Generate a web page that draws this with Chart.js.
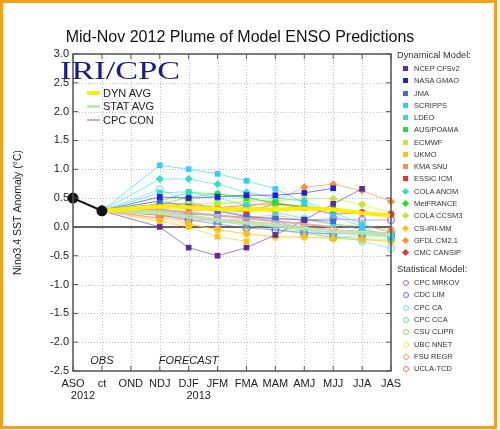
<!DOCTYPE html>
<html>
<head>
<meta charset="utf-8">
<script src="https://cdn.jsdelivr.net/npm/chart.js@4"></script>
<style>
  body { margin: 0; background: #fff; font-family: "Liberation Sans", Arial, sans-serif; }
  #wrap { position: relative; width: 500px; height: 430px; overflow: hidden; background: #fff; }
  #plume { position: absolute; left: 0; top: 0; }
  #frame { position: absolute; left: 0; top: 0; width: 497px; height: 429px; border: 3px solid #f6a01a; box-sizing: border-box; pointer-events: none; }
  #title { position: absolute; left: 0; width: 480px; top: 29px; text-align: center; font-size: 16px; line-height: 16px; color: #111; }
  #iri { position: absolute; left: 60px; top: 58px; font-family: "Liberation Serif", "Times New Roman", serif; font-size: 26px; line-height: 26px; color: #1c1c80; transform: scaleX(1.32); transform-origin: left top; }
  .avg { position: absolute; left: 87px; font-size: 11px; line-height: 12px; color: #222; }
  .avg span { display: inline-block; width: 13px; vertical-align: middle; margin-right: 3px; margin-top: -2px; }
  .lg { position: absolute; left: 397px; font-size: 7.5px; line-height: 10px; color: #333; white-space: nowrap; }
  .lg.head { font-size: 9.3px; left: 397px; color: #333; }
  .mk { position: absolute; left: 6px; top: 2px; width: 5px; height: 5px; box-sizing: border-box; }
  .mk.rectRot { transform: rotate(45deg); width: 5px; height: 5px; }
  .mk.circle { border-radius: 50%; border: 1.3px solid; width: 6px; height: 6px; left: 5.5px; top: 2px; background: transparent; }
  .lg .nm { position: absolute; left: 17px; top: 0; }
</style>
</head>
<body>
<div id="wrap">
  <canvas id="plume" width="500" height="430"></canvas>
  <div id="title">Mid-Nov 2012 Plume of Model ENSO Predictions</div>
  <div id="iri">IRI/CPC</div>
  <div class="avg" style="top:87px"><span style="height:4px;background:#ffee00"></span>DYN AVG</div>
  <div class="avg" style="top:100px"><span style="height:3px;background:#c4e6bd"></span>STAT AVG</div>
  <div class="avg" style="top:114px"><span style="height:2px;background:#dcaaaa"></span>CPC CON</div>
  <div id="legend"></div>
  <div id="frame"></div>
</div>
<script>
const months = ['ASO', 'ct', 'OND', 'NDJ', 'DJF', 'JFM', 'FMA', 'MAM', 'AMJ', 'MJJ', 'JJA', 'JAS'];
const observed = [0.5, 0.28];

// forecasts, NDJ .. JAS
const ncepCfsv2 = [0.0, -0.36, -0.5, -0.36, -0.14, 0.12, 0.4, 0.66, null];
const nasaGmao = [0.52, 0.5, 0.52, 0.55, 0.55, 0.59, 0.67, null, null];
const jma = [0.45, 0.35, 0.27, 0.18, 0.14, 0.12, 0.1, null, null];
const scripps = [1.07, 1.0, 0.92, 0.8, 0.66, 0.42, 0.2, 0.0, -0.2];
const ldeo = [0.59, 0.61, 0.5, 0.38, 0.25, 0.15, 0.05, -0.05, -0.15];
const ausPoama = [0.45, 0.6, 0.57, 0.5, 0.42, 0.35, 0.3, null, null];
const ecmwf = [0.3, 0.4, 0.42, 0.4, 0.38, 0.35, null, null, null];
const ukmo = [0.1, 0.0, -0.17, -0.25, null, null, null, null, null];
const kmaSnu = [0.15, 0.28, 0.3, 0.17, 0.2, 0.12, 0.05, 0.0, -0.05];
const essicIcm = [0.36, 0.38, 0.3, 0.26, 0.4, 0.33, 0.22, 0.25, 0.22];
const colaAnom = [0.83, 0.83, 0.74, 0.6, 0.5, 0.45, 0.25, 0.05, -0.1];
const metFrance = [0.38, 0.52, 0.57, 0.52, 0.4, 0.35, null, null, null];
const colaCcsm3 = [0.28, 0.3, 0.4, 0.45, 0.45, 0.49, 0.49, 0.39, 0.24];
const csIriMm = [0.22, 0.05, -0.05, -0.12, -0.17, -0.18, -0.2, -0.22, -0.25];
const gfdlCm21 = [0.38, 0.35, 0.3, 0.35, 0.45, 0.69, 0.74, 0.63, 0.44];
const cmcCansip = [0.4, 0.4, 0.33, 0.38, 0.4, 0.35, 0.3, 0.25, 0.22];

const cpcMrkov = [0.28, 0.22, 0.2, 0.17, 0.15, 0.12, 0.14, 0.12, 0.12];
const cdcLim = [0.21, 0.12, 0.05, -0.02, -0.05, -0.1, -0.12, -0.12, -0.15];
const cpcCa = [0.65, 0.45, 0.3, 0.2, 0.1, -0.05, -0.15, -0.25, -0.37];
const cpcCca = [0.25, 0.2, 0.12, 0.05, 0.0, -0.08, -0.19, -0.15, -0.18];
const csuClipr = [0.3, 0.18, 0.1, 0.02, -0.05, -0.12, -0.18, -0.2, -0.22];
const ubcNnet = [0.12, 0.05, -0.05, -0.12, -0.18, -0.17, -0.2, -0.22, -0.25];
const fsuRegr = [0.15, 0.12, 0.1, 0.15, 0.1, -0.02, -0.05, -0.1, -0.12];
const uclaTcd = [0.2, 0.15, 0.12, 0.1, 0.05, 0.0, -0.05, -0.08, -0.1];

const dynAvg = [0.36, 0.34, 0.31, 0.3, 0.3, 0.32, 0.3, 0.24, 0.2];
const statAvg = [0.25, 0.18, 0.12, 0.07, 0.03, -0.03, -0.08, -0.1, -0.14];
const cpcCon = [0.3, 0.25, 0.2, 0.15, 0.1, 0.05, 0.0, null, null];

const dynNames = ['NCEP CFSv2', 'NASA GMAO', 'JMA', 'SCRIPPS', 'LDEO', 'AUS/POAMA', 'ECMWF', 'UKMO',
  'KMA SNU', 'ESSIC ICM', 'COLA ANOM', 'MetFRANCE', 'COLA CCSM3', 'CS-IRI-MM', 'GFDL CM2.1', 'CMC CANSIP'];
const dynValues = [ncepCfsv2, nasaGmao, jma, scripps, ldeo, ausPoama, ecmwf, ukmo,
  kmaSnu, essicIcm, colaAnom, metFrance, colaCcsm3, csIriMm, gfdlCm21, cmcCansip];
const statNames = ['CPC MRKOV', 'CDC LIM', 'CPC CA', 'CPC CCA', 'CSU CLIPR', 'UBC NNET', 'FSU REGR', 'UCLA-TCD'];
const statValues = [cpcMrkov, cdcLim, cpcCa, cpcCca, csuClipr, ubcNnet, fsuRegr, uclaTcd];

const dynColors = ['#5b2c9f', '#1f1fe0', '#3a6be0', '#33ccff', '#33ddcc', '#22dd44', '#bbee22', '#ffc20e',
  '#ff8c3a', '#ff2a2a', '#33ddcc', '#22dd22', '#bbee22', '#ffc20e', '#ff8c3a', '#ff2a2a'];
const statColors = ['#9966dd', '#6666ff', '#66e0ee', '#66dd88', '#99dd55', '#ffdd66', '#ff9966', '#ff6666'];

function rgba(hex, a) {
  const n = parseInt(hex.slice(1), 16);
  return `rgba(${n >> 16},${(n >> 8) & 255},${n & 255},${a})`;
}
// forecasts start from the last observed value (ct), skip OND
function series(v) { return [null, observed[1], null, ...v]; }
const connector = 'rgba(140,140,140,0.7)';

function modelSet(label, values, color, shape, hollow) {
  return {
    label,
    data: series(values),
    borderColor: rgba(color, 0.6),
    borderWidth: 1,
    spanGaps: true,
    pointStyle: shape,
    pointRadius: ctx => ctx.dataIndex === 1 ? 0 : (hollow ? 3.3 : 4),
    pointBackgroundColor: hollow ? 'rgba(0,0,0,0)' : color,
    pointBorderColor: rgba(color, hollow ? 0.85 : 1),
    pointBorderWidth: hollow ? 1.3 : 0,
    segment: { borderColor: ctx => ctx.p0DataIndex === 1 ? connector : undefined }
  };
}

function avgSet(label, values, color, width) {
  return {
    label,
    data: series(values),
    borderColor: color,
    borderWidth: width,
    spanGaps: true,
    pointRadius: 0,
    segment: {
      borderColor: ctx => ctx.p0DataIndex === 1 ? connector : undefined,
      borderWidth: ctx => ctx.p0DataIndex === 1 ? 1 : undefined
    }
  };
}

const datasets = [
  { label: 'OBS', data: observed, borderColor: '#111', borderWidth: 2, pointRadius: 4.5,
    pointBackgroundColor: '#111', pointBorderColor: '#111' },
  avgSet('DYN AVG', dynAvg, '#ffee00', 4),
  avgSet('STAT AVG', statAvg, 'rgba(190,228,180,0.9)', 4),
  avgSet('CPC CON', cpcCon, 'rgba(220,165,165,0.9)', 2)
];
dynValues.forEach((v, i) => datasets.push(modelSet(dynNames[i], v, dynColors[i], i < 10 ? 'rect' : 'rectRot', false)));
statValues.forEach((v, i) => datasets.push(modelSet(statNames[i], v, statColors[i], 'circle', true)));

const decor = {
  id: 'decor',
  beforeDatasetsDraw(chart) {
    const { ctx, chartArea: a, scales: { x, y } } = chart;
    ctx.save();
    // dotted grid
    ctx.strokeStyle = '#bdbdbd';
    ctx.lineWidth = 1;
    ctx.setLineDash([1, 2]);
    ctx.beginPath();
    months.forEach((m, i) => {
      const px = Math.round(x.getPixelForValue(i)) + 0.5;
      ctx.moveTo(px, a.top); ctx.lineTo(px, a.bottom);
    });
    y.ticks.forEach(t => {
      const py = Math.round(y.getPixelForValue(t.value)) + 0.5;
      ctx.moveTo(a.left, py); ctx.lineTo(a.right, py);
    });
    ctx.stroke();
    ctx.setLineDash([]);
    const y0 = y.getPixelForValue(0);
    ctx.strokeStyle = '#333';
    ctx.lineWidth = 1.5;
    ctx.beginPath(); ctx.moveTo(a.left, y0); ctx.lineTo(a.right, y0); ctx.stroke();
    ctx.restore();
  },
  afterDraw(chart) {
    const { ctx, chartArea: a, scales: { x, y } } = chart;
    ctx.save();
    ctx.strokeStyle = '#555';
    ctx.lineWidth = 1.5;
    ctx.strokeRect(a.left, a.top, a.right - a.left, a.bottom - a.top);
    ctx.lineWidth = 1;
    ctx.beginPath();
    months.forEach((m, i) => {
      const px = x.getPixelForValue(i);
      ctx.moveTo(px, a.bottom); ctx.lineTo(px, a.bottom - 5);
      ctx.moveTo(px, a.top); ctx.lineTo(px, a.top + 5);
    });
    y.ticks.forEach(t => {
      const py = y.getPixelForValue(t.value);
      ctx.moveTo(a.left, py); ctx.lineTo(a.left + 5, py);
      ctx.moveTo(a.right, py); ctx.lineTo(a.right - 5, py);
    });
    ctx.stroke();
    ctx.fillStyle = '#222';
    ctx.textAlign = 'center';
    ctx.textBaseline = 'middle';
    ctx.font = 'italic 11px "Liberation Sans", Arial, sans-serif';
    ctx.fillText('OBS', x.getPixelForValue(1), a.bottom - 10);
    ctx.fillText('FORECAST', x.getPixelForValue(4), a.bottom - 10);
    ctx.font = '11px "Liberation Sans", Arial, sans-serif';
    ctx.fillText('2012', x.getPixelForValue(0) + 10, a.bottom + 25);
    ctx.fillText('2013', x.getPixelForValue(4) + 10, a.bottom + 25);
    ctx.restore();
  }
};

new Chart('plume', {
  type: 'line',
  data: { labels: months, datasets },
  options: {
    responsive: false,
    animation: false,
    devicePixelRatio: 1,
    layout: { padding: { top: 54, right: 109, bottom: 37, left: 0 } },
    plugins: { legend: { display: false }, tooltip: { enabled: false } },
    elements: { line: { tension: 0 } },
    scales: {
      x: {
        offset: false,
        afterFit: s => { s.height = 22; },
        grid: { display: false, drawTicks: false },
        border: { display: false },
        ticks: { autoSkip: false, maxRotation: 0, padding: 6, color: '#222',
          font: { size: 11, family: '"Liberation Sans", Arial, sans-serif' } }
      },
      y: {
        min: -2.5, max: 3.0,
        afterFit: s => { s.width = 73; },
        grid: { display: false, drawTicks: false },
        border: { display: false },
        ticks: { stepSize: 0.5, padding: 4, color: '#222', callback: v => v.toFixed(1),
          font: { size: 11, family: '"Liberation Sans", Arial, sans-serif' } },
        title: { display: true, text: 'Nino3.4 SST Anomaly (°C)', color: '#222', padding: { top: 12, bottom: 0 },
          font: { size: 10.5, family: '"Liberation Sans", Arial, sans-serif' } }
      }
    }
  },
  plugins: [decor]
});

// side legend
const legend = document.getElementById('legend');
function row(top, name, color, shape) {
  const d = document.createElement('div');
  d.className = 'lg';
  d.style.top = (top - 5) + 'px';
  const mk = document.createElement('span');
  mk.className = 'mk ' + shape;
  if (shape === 'circle') mk.style.borderColor = color; else mk.style.background = color;
  const nm = document.createElement('span');
  nm.className = 'nm';
  nm.textContent = name;
  d.appendChild(mk); d.appendChild(nm);
  legend.appendChild(d);
}
function head(top, text) {
  const d = document.createElement('div');
  d.className = 'lg head';
  d.style.top = (top - 6) + 'px';
  d.textContent = text;
  legend.appendChild(d);
}
head(56, 'Dynamical Model:');
dynNames.forEach((n, i) => row(69 + i * 12.27, n, dynColors[i], i < 10 ? 'rect' : 'rectRot'));
head(270, 'Statistical Model:');
statNames.forEach((n, i) => row(283 + i * 12.3, n, statColors[i], 'circle'));
</script>
</body>
</html>
